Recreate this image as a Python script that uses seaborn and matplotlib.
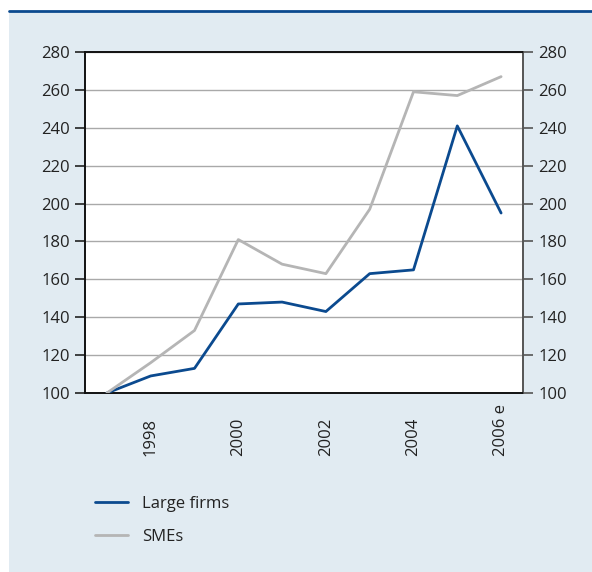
import matplotlib
matplotlib.use("Agg")
import matplotlib.pyplot as plt
import seaborn as sns
import pandas as pd
from matplotlib.patches import Rectangle
from matplotlib.lines import Line2D

years = ['1997', '1998', '1999', '2000', '2001', '2002', '2003', '2004', '2005', '2006 e']
large_firms = [100, 109, 113, 147, 148, 143, 163, 165, 241, 195]
smes = [100, 116, 133, 181, 168, 163, 197, 259, 257, 267]
y_ticks = [100, 120, 140, 160, 180, 200, 220, 240, 260, 280]

df = pd.DataFrame({
    'pos': list(range(len(years))) * 2,
    'value': large_firms + smes,
    'series': ['Large firms'] * len(years) + ['SMEs'] * len(years),
})

sns.set_style('white')
plt.rcParams['font.family'] = ['Open Sans', 'DejaVu Sans']

W, H = 592, 572
fig = plt.figure(figsize=(W / 100, H / 100), dpi=100)
fig.patches.append(Rectangle((9 / W, 0), 1, 1 - 11 / H, transform=fig.transFigure,
                             facecolor='#e1ebf2', edgecolor='none', zorder=-10))
fig.lines.append(Line2D([9 / W, 1], [1 - 11 / H, 1 - 11 / H], transform=fig.transFigure,
                        color='#0b4a8f', lw=2))

ax = fig.add_axes([85 / W, 1 - 393 / H, (523 - 85) / W, (393 - 52) / H])
ax.set_facecolor('white')
palette = {'Large firms': '#0b4a8f', 'SMEs': '#b5b5b5'}
sns.lineplot(data=df, x='pos', y='value', hue='series', palette=palette, lw=2,
             ax=ax, legend=False, zorder=3)

ax.set_xlim(-0.5, len(years) - 0.5)
ax.set_ylim(100, 280)
ax.set_yticks(y_ticks)
ax.yaxis.grid(True, color='#a9a9a9', lw=1)
ax.set_axisbelow(True)
ax.set_xlabel('')
ax.set_ylabel('')

ax.set_xticks([i + 0.5 for i in range(len(years) - 1)])
ax.set_xticklabels([])
ax.tick_params(axis='x', which='major', direction='in', length=7, width=1.2, color='#222222')
ax.set_xticks(list(range(1, len(years), 2)), minor=True)
ax.set_xticklabels([years[i] for i in range(1, len(years), 2)], minor=True,
                   rotation=90, va='bottom', ha='center')
ax.tick_params(axis='x', which='minor', length=0, pad=45, labelsize=12, labelcolor='#222222')

ax.tick_params(axis='y', direction='out', length=7, width=1.2, color='#222222',
               labelsize=12, labelcolor='#222222', pad=4, left=True)

for name, sp in ax.spines.items():
    sp.set_visible(True)
    sp.set_color('#111111')
    sp.set_linewidth(1.4)
ax.spines['right'].set_color('#555555')

ax2 = ax.twinx()
ax2.set_ylim(100, 280)
ax2.set_yticks(y_ticks)
ax2.tick_params(axis='y', direction='out', length=7, width=1.2, color='#555555',
                labelsize=12, labelcolor='#222222', pad=4)
for sp in ax2.spines.values():
    sp.set_visible(False)

handles = [Line2D([], [], color=palette['Large firms'], lw=2),
           Line2D([], [], color=palette['SMEs'], lw=2)]
fig.legend(handles, ['Large firms', 'SMEs'], loc='upper left',
           bbox_to_anchor=(80 / W, 1 - 481 / H), frameon=False, fontsize=12,
           handlelength=2.0, handletextpad=0.8, labelspacing=1.0, labelcolor='#222222')

fig.savefig('out.png', dpi=100)
